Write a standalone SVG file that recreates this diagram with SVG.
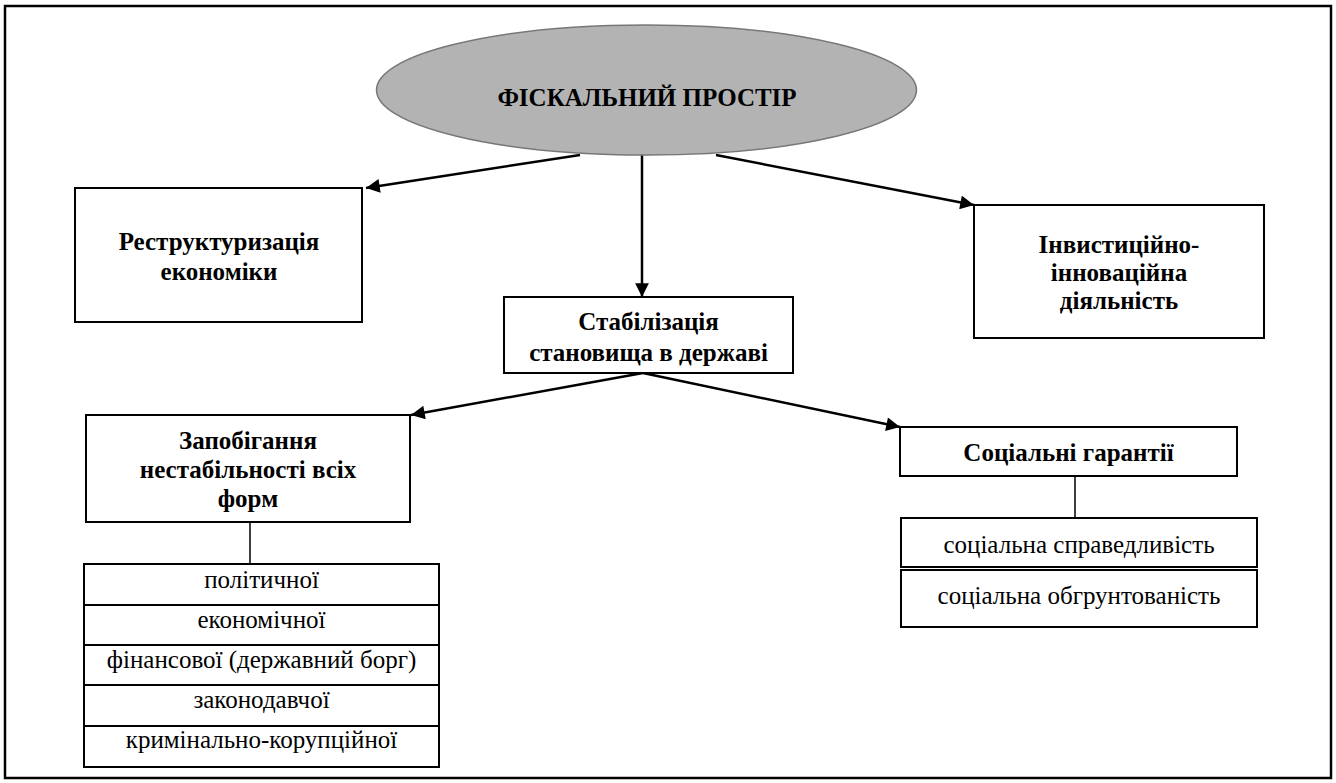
<svg xmlns="http://www.w3.org/2000/svg" width="1336" height="783" viewBox="0 0 1336 783">
<style>
.box{fill:#fff;stroke:#000;stroke-width:2}
.bt{font-family:"Liberation Serif","Times New Roman",serif;font-weight:bold;font-size:25px;text-anchor:middle;fill:#000}
.nt{font-family:"Liberation Serif","Times New Roman",serif;font-size:25px;text-anchor:middle;fill:#000}
.arr{stroke:#000;stroke-width:2.5;fill:none;marker-end:url(#ah)}
.ln{stroke:#000;stroke-width:1.5;fill:none}
</style>
<defs>
<marker id="ah" viewBox="0 0 10 10" refX="10" refY="5" markerWidth="6" markerHeight="5.5" markerUnits="strokeWidth" orient="auto">
<path d="M0,0 L10,5 L0,10 z" fill="#000"/>
</marker>
</defs>
<rect x="5" y="6" width="1326" height="772" fill="#fff" stroke="#000" stroke-width="2.5"/>
<g id="connectors">
<line class="arr" x1="580" y1="155" x2="366" y2="188"/>
<line class="arr" x1="642" y1="155" x2="642" y2="297"/>
<line class="arr" x1="716" y1="155" x2="974" y2="205"/>
<line class="arr" x1="643" y1="373" x2="411" y2="415"/>
<line class="arr" x1="643" y1="373" x2="900" y2="427"/>
<line class="ln" x1="250" y1="522" x2="250" y2="564"/>
<line class="ln" x1="1075" y1="476" x2="1075" y2="518"/>
</g>
<g id="fiscal-space">
<ellipse cx="646.5" cy="90" rx="270" ry="65" fill="#b3b3b3" stroke="#777" stroke-width="1.5"/>
<text class="bt" x="647" y="106">ФІСКАЛЬНИЙ ПРОСТІР</text>
</g>
<g id="restructuring">
<rect class="box" x="75" y="188" width="287" height="134"/>
<text class="bt" x="219" y="250">Реструктуризація</text>
<text class="bt" x="219" y="280">економіки</text>
</g>
<g id="stabilization">
<rect class="box" x="504" y="297" width="289" height="76"/>
<text class="bt" x="648.5" y="330">Стабілізація</text>
<text class="bt" x="648.5" y="361">становища в державі</text>
</g>
<g id="investment">
<rect class="box" x="974" y="205" width="290" height="133"/>
<text class="bt" x="1119" y="253">Інвистиційно-</text>
<text class="bt" x="1119" y="281">інноваційна</text>
<text class="bt" x="1119" y="309">діяльність</text>
</g>
<g id="prevention">
<rect class="box" x="86" y="415" width="324" height="107"/>
<text class="bt" x="248" y="449">Запобігання</text>
<text class="bt" x="248" y="478">нестабільності всіх</text>
<text class="bt" x="248" y="507">форм</text>
</g>
<g id="prevention-list">
<rect class="box" x="84" y="564" width="355" height="41"/>
<text class="nt" x="261.5" y="588">політичної</text>
<rect class="box" x="84" y="605" width="355" height="40"/>
<text class="nt" x="261.5" y="628">економічної</text>
<rect class="box" x="84" y="645" width="355" height="40"/>
<text class="nt" x="261.5" y="668">фінансової (державний борг)</text>
<rect class="box" x="84" y="685" width="355" height="41"/>
<text class="nt" x="261.5" y="708">законодавчої</text>
<rect class="box" x="84" y="726" width="355" height="41"/>
<text class="nt" x="261.5" y="748">кримінально-корупційної</text>
</g>
<g id="social-guarantees">
<rect class="box" x="900" y="427" width="337" height="49"/>
<text class="bt" x="1068.5" y="461">Соціальні гарантії</text>
</g>
<g id="social-list">
<rect class="box" x="901" y="518" width="356" height="49"/>
<text class="nt" x="1079" y="553">соціальна справедливість</text>
<rect class="box" x="901" y="570" width="356" height="57"/>
<text class="nt" x="1079" y="604">соціальна обгрунтованість</text>
</g>
</svg>
